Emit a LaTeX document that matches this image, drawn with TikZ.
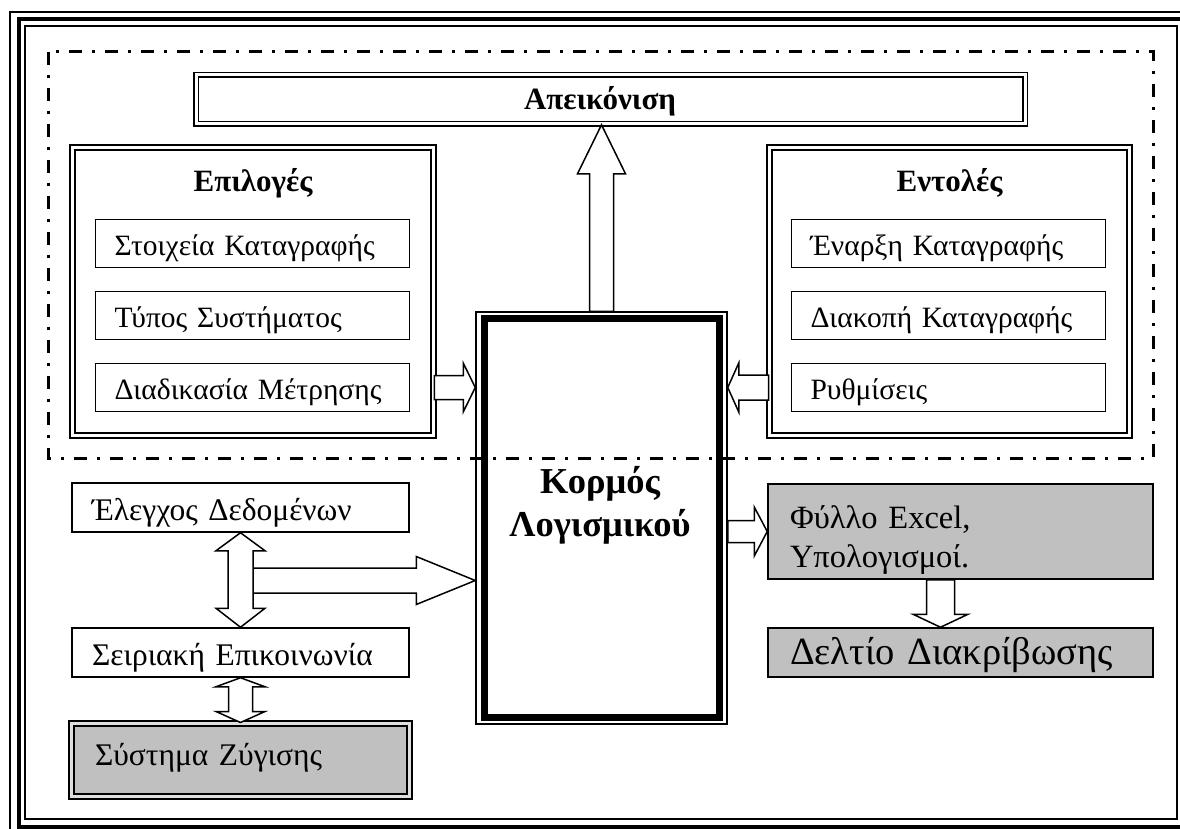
\documentclass[tikz,border=0pt]{standalone}
\usepackage{fontspec}
\setmainfont{Liberation Serif}
\usetikzlibrary{calc}
\definecolor{boxgray}{HTML}{C0C0C0}
\newcommand{\itemfont}{\fontsize{29.5}{34}\selectfont}
\newcommand{\lowfont}{\fontsize{31.5}{36}\selectfont}
\newcommand{\sheetfont}{\fontsize{32.5}{39}\selectfont}
\newcommand{\titlefont}{\bfseries\fontsize{31}{36}\selectfont}
% block arrow: from, to, shaft half width, head half width, head length
\newcommand{\blkarrow}[5]{%
  \coordinate (ba) at (#1);
  \coordinate (bb) at (#2);
  \coordinate (bh) at ($(bb)!#5!(ba)$);
  \draw[blockarr] ($(ba)!#3!90:(bb)$) -- ($(bh)!#3!90:(bb)$) -- ($(bh)!#4!90:(bb)$)
    -- (bb) -- ($(bh)!#4!-90:(bb)$) -- ($(bh)!#3!-90:(bb)$) -- ($(ba)!#3!-90:(bb)$) -- cycle;
}
% two-headed block arrow: from, to, shaft half width, head half width, head lengths
\newcommand{\blkdarrow}[6]{%
  \coordinate (ba) at (#1);
  \coordinate (bb) at (#2);
  \coordinate (bh) at ($(ba)!#5!(bb)$);
  \coordinate (bk) at ($(bb)!#6!(ba)$);
  \draw[blockarr] (ba) -- ($(bh)!#4!90:(bb)$) -- ($(bh)!#3!90:(bb)$) -- ($(bk)!#3!90:(bb)$)
    -- ($(bk)!#4!90:(bb)$) -- (bb) -- ($(bk)!#4!-90:(bb)$) -- ($(bk)!#3!-90:(bb)$)
    -- ($(bh)!#3!-90:(bb)$) -- ($(bh)!#4!-90:(bb)$) -- cycle;
}
\tikzset{
  blockarr/.style={draw, fill=white, line width=1.5pt},
  grpline/.style={line width=3pt, dash pattern=on 13pt off 10pt on 3pt off 10pt},
  dbox/.style={draw, double, line width=1.6pt, double distance=3pt},
  item/.style={draw, line width=1.5pt, minimum height=48pt, inner xsep=19pt, text width=276pt,
    text height=31pt, text depth=7pt, inner ysep=2pt, align=left, font=\itemfont},
  lbox/.style={draw, line width=1.5pt, minimum height=49pt, inner xsep=20pt, text width=297pt,
    text height=32pt, text depth=6pt, inner ysep=2pt, align=left, font=\lowfont},
  rbox/.style={draw, fill=boxgray, line width=1.5pt, minimum height=49pt, inner xsep=22pt, text width=341pt,
    inner ysep=2pt, align=left, font=\sheetfont}
}
\begin{document}
\begin{tikzpicture}[x=1pt,y=-1pt]
\useasboundingbox (0,0) rectangle (1180,829);
% page frame
\draw[line width=1.5pt] (10,12) rectangle (1192,834);
\draw[line width=4pt] (18.5,19) rectangle (1184.5,826.5);
\draw[line width=1.5pt] (25,26) rectangle (1177,819);
% user interface group
\draw[grpline] (48,52) rectangle (1153,458);

\node[dbox, minimum width=829pt, minimum height=49pt] (disp) at (610.5,99.5) {};
\node[font=\titlefont, anchor=base] (dispT) at (600,110) {Απεικόνιση};

\node[dbox, minimum width=361pt, minimum height=288pt] (opts) at (253,291.5) {};
\node[font=\titlefont, anchor=base] (optsT) at (253,192) {Επιλογές};
\foreach \i/\t in {1/Στοιχεία Καταγραφής,2/Τύπος Συστήματος,3/Διαδικασία Μέτρησης}
  \node[item] (opt\i) at (252.5,{171.5+72*\i}) {\t};

\node[dbox, minimum width=360pt, minimum height=288pt] (cmds) at (949.5,291.5) {};
\node[font=\titlefont, anchor=base] (cmdsT) at (949.5,192) {Εντολές};
\foreach \i/\t in {1/Έναρξη Καταγραφής,2/Διακοπή Καταγραφής,3/Ρυθμίσεις}
  \node[item] (cmd\i) at (948.5,{171.5+72*\i}) {\t};

% software core
\node[draw, line width=7pt, minimum width=235pt, minimum height=399pt] (core) at (601.5,517.5) {};
\node[draw, line width=1.5pt, minimum width=251pt, minimum height=412pt] (coreO) at (601.5,518) {};
\node[align=center, font=\bfseries\fontsize{36.5}{43}\selectfont] (coreT) at (600,505.5) {Κορμός\\Λογισμικού};

\node[lbox] (check) at (240.5,507.5) {Έλεγχος Δεδομένων};
\node[lbox] (serial) at (240.5,652.5) {Σειριακή Επικοινωνία};
\node[lbox, fill=boxgray, double=gray!25, line width=2pt, double distance=3pt, minimum height=72.5pt,
  inner xsep=23.5pt, text width=291pt, text height=20pt, text depth=8pt] (scale) at (240.5,759.75) {Σύστημα Ζύγισης};

\node[rbox, minimum height=95pt] (excel) at (960.5,531.5) {\rule{0pt}{40pt}Φύλλο Excel,\\Υπολογισμοί.};
\node[rbox, font=\fontsize{38.5}{44}\selectfont, text height=33pt, text depth=10pt] (cert) at (960.5,652.5) {Δελτίο Διακρίβωσης};

% arrows
\blkarrow{coreO.north}{coreO.north |- disp.south}{12pt}{24pt}{49pt}
\blkarrow{opts.east |- opt3}{coreO.west |- opt3}{12pt}{24.5pt}{12pt}
\blkarrow{cmds.west |- cmd3}{coreO.east |- cmd3}{12.5pt}{24.5pt}{11pt}
\blkarrow{coreO.east |- excel}{excel.west}{11pt}{24.5pt}{13pt}
\blkarrow{[xshift=-20pt]excel.south}{[xshift=-20pt]cert.north}{14pt}{27.5pt}{13pt}
\coordinate (jn) at (253,580.5);
\blkarrow{jn}{coreO.west |- jn}{12.5pt}{24pt}{59pt}
\blkdarrow{check.south}{serial.north}{12.5pt}{24.5pt}{18pt}{19pt}
\blkdarrow{serial.south}{scale.north}{12pt}{24.5pt}{9pt}{11pt}
\end{tikzpicture}
\end{document}
